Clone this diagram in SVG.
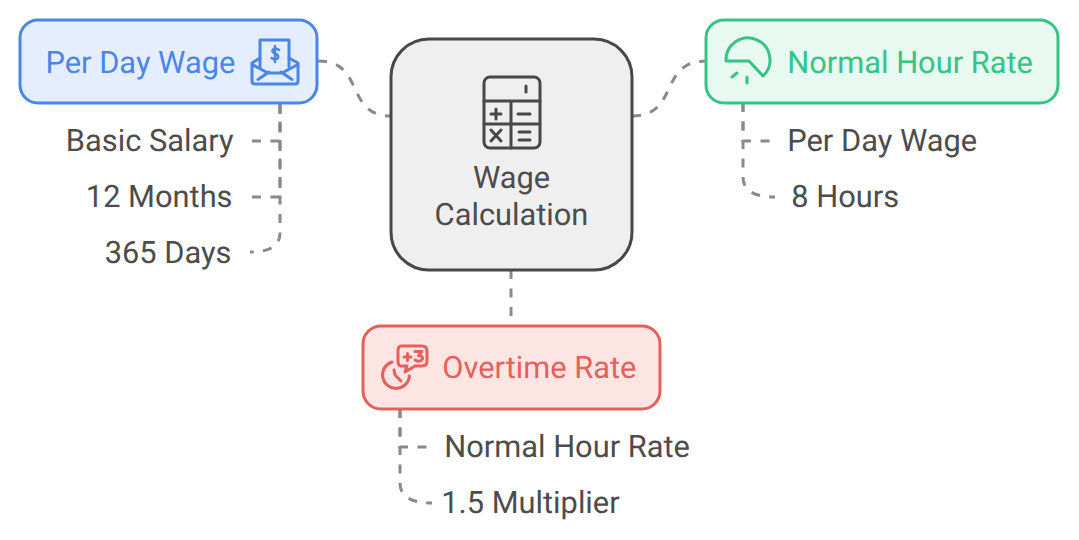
<svg xmlns="http://www.w3.org/2000/svg" width="1079" height="540" viewBox="0 0 1079 540">
<style>
text{font-family:Roboto,"Liberation Sans",sans-serif;font-size:30.800px;fill:#4c4c4c;text-rendering:geometricPrecision}
.c{fill:none;stroke:#8a8a8a;stroke-width:3;stroke-dasharray:9 9.500}
.i{fill:none;stroke-width:3;stroke-linecap:round;stroke-linejoin:round}
.n{stroke-width:3}
</style>
<rect width="1079" height="540" fill="#fff"/>
<g id="connectors">
<path class="c" d="M318 61C366 61 344 116 391 116"/>
<path class="c" d="M632 116C680 116 658 61 706 61"/>
<path class="c" d="M511 270V326"/>
<path class="c" d="M280 104.500V141H252"/>
<path class="c" d="M280 105V197H252"/>
<path class="c" d="M280 103V233Q280 252 250 252"/>
<path class="c" d="M743 103V177Q743 197 775 197"/>
<path class="c" d="M743 103V141H772"/>
<path class="c" d="M400 409V483Q400 503 432 503"/>
<path class="c" d="M400 409V447H428"/>
</g>
<g id="node-perday">
<rect class="n" x="20" y="20" width="297" height="83" rx="18" fill="#e5eefe" stroke="#4a86e8"/>
<text x="45.500" y="73" style="fill:#4a86e8">Per Day Wage</text>
<g class="i" stroke="#4a86e8">
<path d="M260 67V40H289V67"/>
<path d="M260 58L252 63V81Q252 84 255 84H295Q298 84 298 81V63L289 58"/>
<path d="M253 65L268 73H282L297 65M269 72L258 79.500M281 72L292 79.500"/>
<path d="M279 50Q276 47.500 273 49.500Q271 52 275 53.500Q279 55 278 58Q275 60.500 271.500 58M275 46V62" stroke-width="2.500"/>
</g>
</g>
<g id="node-wage">
<rect class="n" x="391" y="39" width="241" height="231" rx="38" fill="#efefef" stroke="#484848"/>
<g class="i" stroke="#484848">
<rect x="484" y="77" width="56" height="71" rx="6"/>
<path d="M484 101H540M484 124H540M511 101V148"/>
<path d="M526 86V92M491 114H501M496 109V119M518 114H530M491 130L501 141M501 130L491 141M519 132H530M519 140H530"/>
</g>
<text x="511.500" y="188" text-anchor="middle">Wage</text>
<text x="511.500" y="225" text-anchor="middle">Calculation</text>
</g>
<g id="node-normal">
<rect class="n" x="706" y="20" width="352" height="83" rx="18" fill="#e8f9f1" stroke="#36c484"/>
<g class="i" stroke="#36c484">
<path d="M726 61A22 22 0 1 1 763 76L749 61Z"/>
<path d="M732 77L737 73M747 77V83"/>
</g>
<text x="787.300" y="73" style="fill:#36c484">Normal Hour Rate</text>
</g>
<g id="node-overtime">
<rect class="n" x="363" y="326" width="297" height="83" rx="18" fill="#fde5e4" stroke="#e55f5c"/>
<g class="i" stroke="#e55f5c">
<path d="M392 362A13.500 13.500 0 1 0 409.500 376"/>
<path d="M394 370L395 375L401 381"/>
<path d="M401 346H422Q427 346 427 351V361Q427 366 422 366H415L405 372L407 366H401Q398 366 398 361V351Q398 346 401 346Z"/>
<path d="M404 357H411M407.500 353.500V360.500"/>
<path d="M415 351.500H422L418.500 355.500Q423 355.500 422.500 359Q420 363 415 360"/>
</g>
<text x="442.300" y="378" style="fill:#e55f5c">Overtime Rate</text>
</g>
<g id="label-basic"><text x="233.500" y="151" text-anchor="end">Basic Salary</text></g>
<g id="label-months"><text x="232.500" y="207" text-anchor="end">12 Months</text></g>
<g id="label-days"><text x="231.500" y="263" text-anchor="end">365 Days</text></g>
<g id="label-perday2"><text x="787.300" y="151">Per Day Wage</text></g>
<g id="label-hours"><text x="791.300" y="207">8 Hours</text></g>
<g id="label-normal2"><text x="444.300" y="457">Normal Hour Rate</text></g>
<g id="label-mult"><text x="441.300" y="513">1.5 Multiplier</text></g>
</svg>
